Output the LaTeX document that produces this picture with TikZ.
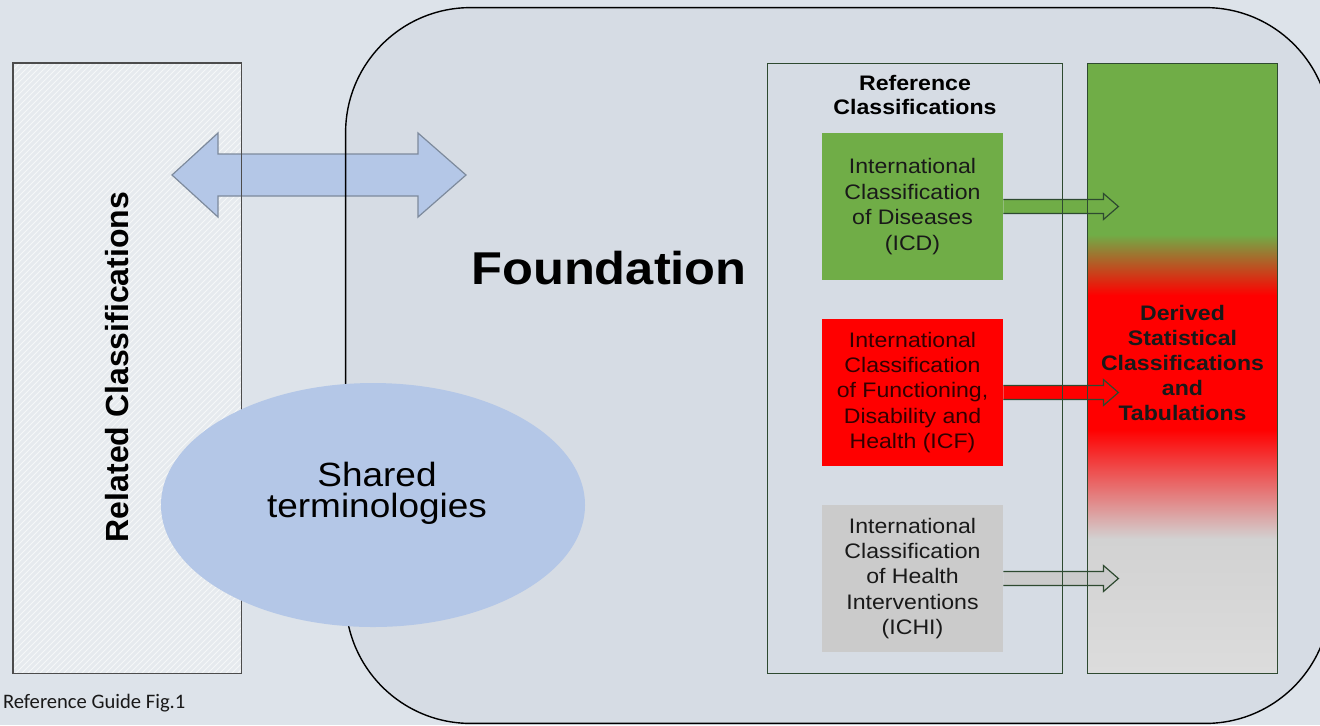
\documentclass[tikz,border=0pt]{standalone}
\usepackage{fontspec}
\setmainfont{Liberation Sans}[FakeStretch=1.1]
\newfontfamily\plainsf{Liberation Sans}
\newfontfamily\capfont{Carlito}
\usetikzlibrary{shapes.geometric,patterns}
\definecolor{bgblue}{HTML}{DDE3EA}
\definecolor{foundfill}{HTML}{D6DCE4}
\definecolor{relfill}{HTML}{E6EAEE}
\definecolor{termblue}{HTML}{B4C7E7}
\definecolor{dblline}{HTML}{7D8A9C}
\definecolor{icdgreen}{HTML}{70AD47}
\definecolor{icfred}{HTML}{FF0000}
\definecolor{ichigray}{HTML}{CBCBCB}
\definecolor{midgray}{HTML}{D2D2D2}
\definecolor{lowgray}{HTML}{DCDCDC}
\definecolor{boxline}{HTML}{2E4A30}
\pgfdeclareverticalshading{derivedshade}{100bp}{color(0bp)=(lowgray); color(25bp)=(lowgray); color(36bp)=(midgray); color(45bp)=(icfred); color(56bp)=(icfred); color(61bp)=(icdgreen); color(100bp)=(icdgreen)}
\tikzset{
  clsbox/.style={minimum width=90.5pt, minimum height=73.5pt, align=center, inner sep=0pt,
    font=\fontsize{10.5}{12.7}\selectfont},
  blkarrow/.style={draw=boxline, line width=0.6pt},
  frame/.style={draw=boxline, line width=0.8pt},
}
\begin{document}
\begin{tikzpicture}[x=0.5pt,y=-0.5pt]
      \useasboundingbox (0,0) rectangle (1320,725);
      \fill[bgblue] (0,0) rectangle (1320,725);
      \node[minimum width=114pt, minimum height=305pt, preaction={fill=relfill},
        pattern=north east lines, pattern color=white!60!relfill] (related) at (127,368) {};
      \node[fill=foundfill, rounded corners=62.5pt, minimum width=492pt, minimum height=357.5pt] (foundation) at (838,365.5) {};
      \draw[draw=dblline, fill=termblue, line width=0.6pt]
        (172,175) -- (218,133) -- (218,154) -- (418,154) -- (418,133) -- (466,175)
        -- (418,217) -- (418,196) -- (218,196) -- (218,217) -- cycle;
      \draw[draw=black!70, line width=0.9pt] (related.south west) rectangle (related.north east);
      \draw[line width=0.7pt, rounded corners=62.5pt] (foundation.south west) rectangle (foundation.north east);
      \node[ellipse, fill=termblue, minimum width=212pt, minimum height=122pt] (shared) at (373,505) {};
      \node[align=center, font=\fontsize{16.8}{15.5}\selectfont] (sharedtxt) at (377,493) {Shared\\terminologies};
      \node[rotate=90, font=\plainsf\bfseries\fontsize{16}{19}\selectfont] (rellabel) at (117,367) {Related Classifications};
      \node[font=\bfseries\fontsize{23}{27}\selectfont] (foundlbl) at (609,268) {Foundation};
      % reference and derived classifications
      \node[fill=foundfill, minimum width=147pt, minimum height=304.5pt] (refcls) at (915,368.5) {};
      \node[shading=derivedshade, minimum width=94.5pt, minimum height=304.5pt] (derived) at (1182.5,368.5) {};
      \node[align=center, font=\bfseries\fontsize{10.5}{12}\selectfont] (reftitle) at (915,95) {Reference\\Classifications};
      \node[clsbox, fill=icdgreen, text=black!90] (icd) at (912.5,206.5)
        {International\\Classification\\of Diseases\\(ICD)};
      \node[clsbox, fill=icfred, text=black!80!red] (icf) at (912.5,392.5)
        {International\\Classification\\of Functioning,\\Disability and\\Health (ICF)};
      \node[clsbox, fill=ichigray, text=black!90] (ichi) at (912.5,578.5)
        {International\\Classification\\of Health\\Interventions\\(ICHI)};
      \begin{scope}[blkarrow]
        \draw[fill=icdgreen, shift={(icd.east)}] (0,-7) -- (100,-7) -- (100,-13) -- (115,0) -- (100,13) -- (100,7) -- (0,7);
        \draw[fill=icfred, shift={(icf.east)}] (0,-7) -- (100,-7) -- (100,-13) -- (115,0) -- (100,13) -- (100,7) -- (0,7);
        \draw[fill=ichigray, shift={(ichi.east)}] (0,-7) -- (100,-7) -- (100,-13) -- (115,0) -- (100,13) -- (100,7) -- (0,7);
      \end{scope}
      \draw[frame] (refcls.south west) rectangle (refcls.north east);
      \draw[frame] (derived.south west) rectangle (derived.north east);
      \node[align=center, font=\bfseries\fontsize{10.5}{12.5}\selectfont, text=black!90] (dertxt) at (1182.5,363)
        {Derived\\Statistical\\Classifications\\and\\Tabulations};
      \node[anchor=base west, font=\capfont\fontsize{10.3}{12}\selectfont, text=black!90] (caption) at (-4,708) {Reference Guide Fig.1};
    \end{tikzpicture}
\end{document}
